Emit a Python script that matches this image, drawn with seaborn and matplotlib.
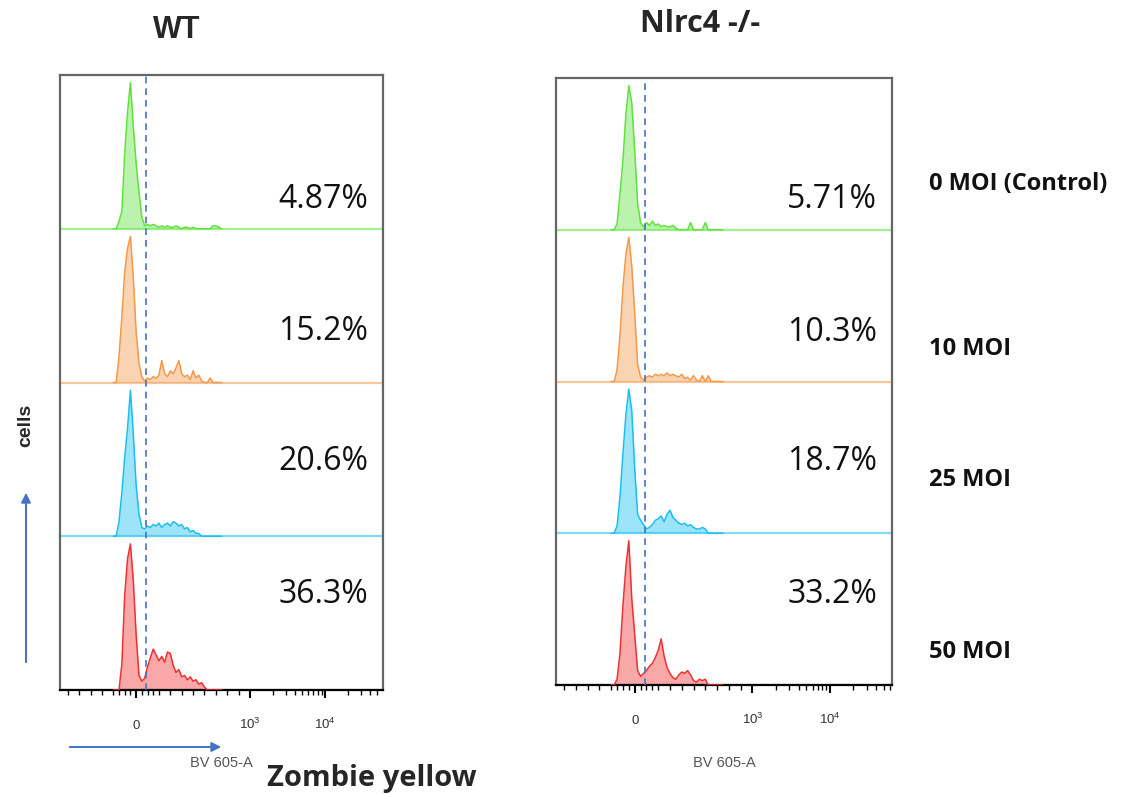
import numpy as np
import matplotlib
matplotlib.use("Agg")
import matplotlib.pyplot as plt
import seaborn as sns
from matplotlib.patches import FancyArrowPatch
from matplotlib.ticker import FixedLocator, FixedFormatter, NullFormatter

# ---------------- data ----------------
BINS = [-200, -175, -150, -125, -100, -75, -50, -25, 0, 25, 50, 75, 100, 125, 150,
        175, 200, 225, 250, 275, 300, 325, 350, 375, 400, 425, 450, 475, 500, 525,
        550, 575, 600, 625, 650, 675, 700, 725, 750]

CONDITIONS = ["0 MOI (Control)", "10 MOI", "25 MOI", "50 MOI"]

# % of mode, one value per bin
WT_GREEN = [0, 0, 5, 12, 52, 80, 100, 70, 45, 25, 8, 2, 3, 2, 3, 2, 1, 2, 1, 2, 1, 1, 2, 1,
            0, 1, 1, 0, 1, 0, 0, 0, 0, 0, 0, 2, 2, 1, 0]
WT_ORANGE = [0, 0, 18, 45, 76, 92, 100, 72, 35, 13, 4, 1, 3, 2, 4, 3, 5, 15, 6, 4, 8, 6, 10,
             15, 6, 4, 5, 2, 8, 3, 5, 1, 0, 0, 3, 0, 0, 0, 0]
WT_BLUE = [0, 0, 10, 30, 54, 74, 100, 70, 35, 15, 6, 5, 7, 6, 8, 7, 9, 6, 8, 9, 7, 10, 9, 7,
           8, 5, 6, 3, 4, 2, 2, 0, 0, 0, 0, 0, 0, 0, 0]
WT_RED = [0, 0, 0, 18, 65, 90, 100, 75, 38, 10, 6, 8, 16, 22, 28, 24, 20, 23, 19, 26, 25, 17,
          12, 14, 9, 10, 7, 9, 6, 7, 4, 5, 2, 0, 0, 0, 0, 0, 0]

KO_GREEN = [0, 0, 4, 25, 48, 80, 100, 88, 55, 18, 5, 2, 5, 3, 6, 3, 4, 2, 3, 2, 2, 3, 1, 0,
            0, 0, 0, 5, 0, 0, 0, 0, 5, 0, 0, 0, 0, 0, 0]
KO_ORANGE = [0, 0, 8, 32, 65, 88, 100, 80, 48, 12, 3, 1, 3, 4, 3, 5, 4, 5, 4, 6, 4, 5, 4, 3,
             5, 2, 3, 1, 4, 1, 0, 4, 0, 4, 0, 0, 0, 0, 0]
KO_BLUE = [0, 0, 5, 25, 55, 82, 100, 85, 45, 13, 9, 6, 3, 4, 6, 9, 10, 12, 8, 13, 16, 11, 9,
           7, 6, 7, 5, 6, 4, 3, 3, 4, 3, 0, 0, 0, 0, 0, 0]
KO_RED = [0, 0, 4, 22, 55, 82, 100, 60, 35, 10, 6, 8, 10, 13, 15, 19, 24, 32, 20, 12, 8, 5,
          4, 7, 9, 8, 10, 7, 3, 2, 4, 3, 4, 0, 0, 0, 0, 0, 0]

WT_PCT = ["4.87%", "15.2%", "20.6%", "36.3%"]
KO_PCT = ["5.71%", "10.3%", "18.7%", "33.2%"]

GATE = 90
MAJOR_TICKS = [0, 1000, 10000]
MAJOR_LABELS = ["0", "$10^3$", "$10^4$"]
MINOR_TICKS = [-600, -500, -400, -300, -200, -150, -100, -50, 50, 100, 150, 200, 300, 400,
               500, 600, 700, 800, 900, 2000, 3000, 4000, 5000, 6000, 7000, 8000, 9000,
               20000, 30000, 40000, 50000, 60000]

# ---------------- style ----------------
COLORS = ["#5ee23c", "#f5984a", "#18bff0", "#f03030"]   # green, orange, blue, red
GATE_COLOR = "#4472c4"
W, H = 1121, 794

sns.set_theme(style="white")
plt.rcParams["font.family"] = ["Liberation Sans", "DejaVu Sans"]
plt.rcParams["mathtext.fontset"] = "custom"
plt.rcParams["mathtext.rm"] = "Liberation Sans"
plt.rcParams["mathtext.default"] = "regular"

fig = plt.figure(figsize=(W / 100, H / 100), dpi=100)


def fx(px):
    return px / W


def fy(py):
    return 1 - py / H


panels = [
    dict(rect=(60, 75, 383, 690), xlim=(-668, 59300), series=[WT_GREEN, WT_ORANGE, WT_BLUE, WT_RED],
         pct=WT_PCT, pct_base=[208, 340, 470, 603], pct_right=368),
    dict(rect=(556, 78, 892, 685), xlim=(-669, 63800), series=[KO_GREEN, KO_ORANGE, KO_BLUE, KO_RED],
         pct=KO_PCT, pct_base=[208, 341, 470, 603], pct_right=877),
]

for p in panels:
    x0, y0, x1, y1 = p["rect"]
    ax = fig.add_axes([fx(x0), fy(y1), (x1 - x0) / W, (y1 - y0) / H])
    ax.set_xscale("symlog", base=10, linthresh=1000, linscale=1.368)
    ax.set_xlim(*p["xlim"])
    ax.set_ylim(0, 4)
    n = len(p["series"])
    for i, vals in enumerate(p["series"]):
        lane = n - 1 - i
        y = lane + np.asarray(vals, dtype=float) / 100.0 * 0.95
        col = COLORS[i]
        ax.axhline(lane, color=col, lw=1.6, alpha=0.55, zorder=1)
        ax.fill_between(BINS, lane, y, color=col, alpha=0.42, lw=0, zorder=2)
        sns.lineplot(x=BINS, y=y, ax=ax, color=col, lw=1.1, sort=False, zorder=3)
    ax.axvline(GATE, color=GATE_COLOR, lw=1.2, ls=(0, (4, 3)), zorder=4)

    for j, t in enumerate(p["pct"]):
        ax.text((p["pct_right"] - x0) / (x1 - x0), (y1 - p["pct_base"][j]) / (y1 - y0), t,
                transform=ax.transAxes, ha="right", va="baseline",
                fontsize=23, family=["Open Sans", "DejaVu Sans"], color="#111111")

    ax.set_yticks([])
    ax.xaxis.set_major_locator(FixedLocator(MAJOR_TICKS))
    ax.xaxis.set_major_formatter(FixedFormatter(MAJOR_LABELS))
    ax.xaxis.set_minor_locator(FixedLocator(MINOR_TICKS))
    ax.xaxis.set_minor_formatter(NullFormatter())
    ax.tick_params(axis="x", which="major", direction="out", length=6, width=1.5,
                   color="black", pad=22, labelsize=9.5, labelcolor="#333333", bottom=True)
    ax.tick_params(axis="x", which="minor", direction="out", length=3.5, width=1.0,
                   color="black", bottom=True)
    for lab in ax.get_xticklabels():
        lab.set_va("baseline")
    for s in ["left", "top", "right"]:
        ax.spines[s].set_color("#666666")
        ax.spines[s].set_linewidth(1.6)
    ax.spines["bottom"].set_color("black")
    ax.spines["bottom"].set_linewidth(1.6)
    ax.set_xlabel("BV 605-A", fontsize=10.5, color="#555555")
    ax.xaxis.label.set_va("center")
    ax.xaxis.set_label_coords(0.5, -(763 - y1) / (y1 - y0))

# titles
fig.text(fx(177), fy(38), "WT", ha="center", va="baseline", fontsize=22,
         fontweight="bold", family=["Liberation Sans", "DejaVu Sans"])
fig.text(fx(700), fy(32), "Nlrc4 -/-", ha="center", va="baseline", fontsize=22,
         fontweight="bold", family=["Open Sans", "DejaVu Sans"])

# condition labels
for lab, base in zip(CONDITIONS, [190, 355, 486, 658]):
    fig.text(fx(929), fy(base), lab, ha="left", va="baseline", fontsize=17,
             fontweight="bold", family=["Open Sans", "DejaVu Sans"], color="#111111")

# axis annotations
fig.text(fx(26), fy(425), "cells", rotation=90, ha="center", va="center", fontsize=14,
         fontweight="bold", family=["Liberation Sans", "DejaVu Sans"])
fig.text(fx(267), fy(786), "Zombie yellow", ha="left", va="baseline", fontsize=21,
         fontweight="bold", family=["Open Sans", "DejaVu Sans"])

fig.add_artist(FancyArrowPatch((fx(26), fy(665)), (fx(26), fy(490)), transform=fig.transFigure,
                               arrowstyle="-|>", mutation_scale=14, color=GATE_COLOR, lw=1.4))
fig.add_artist(FancyArrowPatch((fx(67), fy(747)), (fx(224), fy(747)), transform=fig.transFigure,
                               arrowstyle="-|>", mutation_scale=14, color=GATE_COLOR, lw=1.4))

fig.savefig("out.png", dpi=100)
